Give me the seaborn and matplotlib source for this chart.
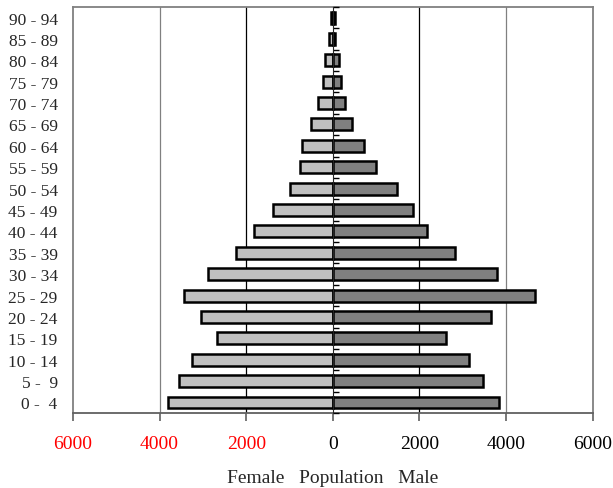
import matplotlib
matplotlib.use("Agg")
import matplotlib.pyplot as plt
import seaborn as sns
import pandas as pd
import numpy as np

age_groups = ["90 - 94", "85 - 89", "80 - 84", "75 - 79", "70 - 74", "65 - 69",
              "60 - 64", "55 - 59", "50 - 54", "45 - 49", "40 - 44", "35 - 39",
              "30 - 34", "25 - 29", "20 - 24", "15 - 19", "10 - 14", "5 -  9", "0 -  4"]
female = [40, 90, 180, 220, 350, 500, 710, 750, 985, 1380, 1815, 2225,
          2880, 3430, 3050, 2680, 3260, 3550, 3800]
male = [40, 45, 140, 180, 290, 440, 715, 1000, 1475, 1850, 2165, 2815,
        3780, 4670, 3650, 2610, 3150, 3460, 3840]
x_ticks = [-6000, -4000, -2000, 0, 2000, 4000, 6000]

sns.set_style("white")
plt.rcParams["font.family"] = ["Liberation Serif", "DejaVu Serif"]

df = pd.DataFrame({"age": age_groups,
                   "Female": [-v for v in female],
                   "Male": male})

fig = plt.figure(figsize=(6.13, 4.89), dpi=100)
ax = fig.add_axes([0.119, 0.153, 0.848, 0.831])

sns.barplot(data=df, x="Female", y="age", orient="h", color="#c0c0c0",
            edgecolor="black", linewidth=1.8, width=0.56, saturation=1, ax=ax,
            zorder=3)
sns.barplot(data=df, x="Male", y="age", orient="h", color="#808080",
            edgecolor="black", linewidth=1.8, width=0.56, saturation=1, ax=ax,
            zorder=3)

ax.set_xlim(-6000, 6000)
ax.set_ylim(len(age_groups) - 0.5, -0.5)
ax.set_xticks(x_ticks)
ax.set_xticklabels([f"{abs(t)}" for t in x_ticks])
for lbl, t in zip(ax.get_xticklabels(), x_ticks):
    lbl.set_color("red" if t < 0 else "black")

ax.xaxis.grid(True, color="black", linewidth=0.9)
for gl, t in zip(ax.get_xgridlines(), x_ticks):
    if abs(t) == 4000:
        gl.set_color("#808080")
    if t == 0 or abs(t) == 6000:
        gl.set_visible(False)
ax.set_axisbelow(True)

for name, sp in ax.spines.items():
    sp.set_visible(True)
    sp.set_color("#808080")
    sp.set_linewidth(1.3)
ax.spines["bottom"].set_color("#606060")

ax.tick_params(axis="x", which="both", bottom=True, direction="out", length=6,
               width=1.2, color="#606060", pad=9.5, labelsize=14)
ax.tick_params(axis="y", left=False, length=0, pad=11, labelsize=12.5)

# central axis with category-boundary tick marks
sec = ax.secondary_yaxis(0.5)
sec.set_yticks(np.arange(-0.5, len(age_groups), 1.0))
sec.set_yticklabels([])
sec.tick_params(direction="out", length=4, width=1.0, color="black")
sec.spines["left"].set_color("black")
sec.spines["left"].set_linewidth(1.0)
sec.set_zorder(5)

ax.set_ylabel("")
ax.set_xlabel("Female   Population   Male", fontsize=14, labelpad=12.5)

fig.savefig("out.png", dpi=100)
